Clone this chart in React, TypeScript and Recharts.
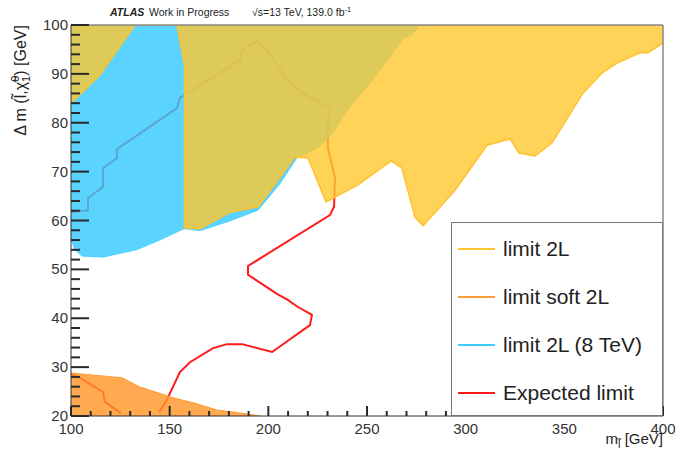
import { ComposedChart, Area, XAxis, YAxis, ReferenceLine, Legend } from 'recharts';

// Axis ticks
const X_MAJOR = [100, 150, 200, 250, 300, 350, 400];
const Y_MAJOR = [20, 30, 40, 50, 60, 70, 80, 90, 100];
const X_TICKS = Array.from({ length: 31 }, (_, i) => 100 + i * 10);
const Y_TICKS = Array.from({ length: 41 }, (_, i) => 20 + i * 2);

// limit 2L (13 TeV) - excluded band from LO up to the top of the frame
const L2L_X = [100, 114.7, 132.4, 153.7, 157.5, 157.5, 165.4, 180.6, 194.8, 213.5, 220.1, 229.2, 245.4, 262.2, 267.7, 274.3, 278.4, 294.6, 310.8, 322.5, 327.0, 335.1, 343.8, 359.5, 369.1, 376.7, 388.3, 392.4, 400];
const L2L_LO = [84.0, 89.8, 100, 100, 91.8, 58.5, 58.3, 61.7, 62.8, 73.0, 72.8, 63.8, 67.3, 72.2, 70.7, 60.7, 58.9, 66.2, 75.4, 76.7, 73.8, 73.2, 75.9, 86.1, 90.2, 92.2, 94.3, 94.3, 96.3];

// limit 2L (8 TeV)
const L8_X = [100, 102.0, 105.6, 116.2, 133.4, 145.1, 157.3, 165.4, 180.6, 194.8, 205.9, 214.5, 224.7, 231.2, 241.4, 251.5, 261.7, 268.2, 272.8, 276.9];
const L8_LO = [56.0, 54.0, 52.7, 52.5, 54.0, 56.0, 58.3, 57.9, 59.9, 62.1, 67.5, 72.8, 74.8, 77.1, 83.2, 88.1, 93.5, 97.3, 98.0, 100];

// limit soft 2L - from the bottom of the frame up to HI
const SOFT_X = [100, 125.8, 135.0, 151.7, 161.8, 174.0, 182.1, 195.8];
const SOFT_HI = [28.8, 27.8, 25.9, 23.7, 22.7, 21.2, 20.8, 20.0];

// expected limit, two pieces
const EXP_A_X = [100, 104.6, 116.2, 117.2, 125.3];
const EXP_A_Y = [28.6, 27.8, 24.9, 22.9, 20.6];
const EXP_B_X = [144.6, 148.1, 155.2, 160.3, 172.0, 179.1, 186.7, 201.9, 221.1, 222.1, 215.0, 210.0, 204.4, 189.7, 189.7, 231.2, 233.3, 233.8, 230.2, 230.2, 231.2, 217.1, 208.4, 199.3, 194.3, 186.7, 185.6, 155.2, 153.7, 123.3, 123.3, 116.2, 116.2, 108.6, 108.6, 100];
const EXP_B_Y = [20.8, 22.9, 29.0, 31.0, 33.9, 34.7, 34.7, 33.1, 38.6, 40.7, 42.3, 43.7, 45.0, 48.9, 50.7, 61.1, 62.8, 68.7, 74.8, 80.6, 83.0, 86.1, 89.4, 94.9, 96.7, 94.9, 92.8, 85.1, 83.0, 74.6, 72.8, 70.7, 66.9, 64.6, 62.1, 61.7];

const LEGEND_NAMES = ['limit 2L', 'limit soft 2L', 'limit 2L (8 TeV)', 'Expected limit'];
const LEGEND_COLORS = ['#ffc72e', '#ff9d3c', '#3ccbff', '#ff1a1a'];

const FONT = '"Liberation Sans", Arial, Helvetica, sans-serif';

const l2lData = L2L_X.map((x, i) => ({ x, lo: L2L_LO[i], hi: 100 }));
const l8Data = L8_X.map((x, i) => ({ x, lo: L8_LO[i], hi: 100 }));
const softData = SOFT_X.map((x, i) => ({ x, lo: 20, hi: SOFT_HI[i] }));
const expA = EXP_A_X.map((x, i) => ({ x, y: EXP_A_Y[i] }));
const expB = EXP_B_X.map((x, i) => ({ x, y: EXP_B_Y[i] }));

// ticks point into the frame, labels sit outside
const XTick = ({ x, y, payload }: any) => {
    const major = X_MAJOR.includes(payload.value);
    return (
        <g>
            <path d={`M${x},${y}v${major ? -10 : -5}`} stroke="#2a2a2a" strokeWidth={2} fill="none" />
            {major && (
                <text x={x} y={y + 18} textAnchor="middle" fontSize={15} fill="#333" fontFamily={FONT}>
                    {payload.value}
                </text>
            )}
        </g>
    );
};

const YTick = ({ x, y, payload }: any) => {
    const major = Y_MAJOR.includes(payload.value);
    return (
        <g>
            <path d={`M${x},${y}h${major ? 18 : 9}`} stroke="#2a2a2a" strokeWidth={2} fill="none" />
            {major && (
                <text x={x - 3} y={y + 5} textAnchor="end" fontSize={15} fill="#333" fontFamily={FONT}>
                    {payload.value}
                </text>
            )}
        </g>
    );
};

// y title + header text
const YTitle = () => (
    <g fontFamily={FONT} fill="#222">
        <text transform="rotate(-90)" x={-25} y={26} textAnchor="end" fontSize={16}>
            {'\u0394 m (l\u0303,\u03c7\u0303'}
            <tspan dy={4} fontSize={11}>1</tspan>
            <tspan dx={-6} dy={-11} fontSize={11}>0</tspan>
            <tspan dy={7}>) [GeV]</tspan>
        </text>
        <text x={110} y={16} fontSize={10.5} fontStyle="italic" fontWeight="bold">ATLAS</text>
        <text x={149} y={16} fontSize={10.5}>Work in Progress</text>
        <text x={252} y={16} fontSize={10.5}>
            {'\u221as=13 TeV, 139.0 fb'}
            <tspan dy={-4} fontSize={7.5}>-1</tspan>
        </text>
    </g>
);

const XTitle = () => (
    <text x={663} y={444} textAnchor="end" fontSize={15} fill="#222" fontFamily={FONT}>
        m
        <tspan dy={4} fontSize={11}>{'l\u0303'}</tspan>
        <tspan dy={-4}> [GeV]</tspan>
    </text>
);

const LegendBox = () => (
    <div style={{ position: 'relative', width: 212, height: 194, boxSizing: 'border-box', border: '1px solid #777', background: '#fff', fontFamily: FONT, fontSize: 21, color: '#222' }}>
        {LEGEND_NAMES.map((name, i) => (
            <div key={name} style={{ position: 'absolute', left: 6, top: 13 + 48 * i, height: 26, display: 'flex', alignItems: 'center', whiteSpace: 'nowrap' }}>
                <span style={{ display: 'inline-block', width: 37, height: 2, background: LEGEND_COLORS[i] }} />
                <span style={{ marginLeft: 8 }}>{name}</span>
            </div>
        ))}
    </div>
);

const App = () => {
    return (
        <div style={{ position: 'absolute', left: 0, top: 0, background: '#fff' }}>
            <ComposedChart width={677} height={454} margin={{ top: 25, right: 14, bottom: 0, left: 0 }}>
                {/* expected limit first (unfilled), so the translucent regions tint it */}
                <Area data={expA} dataKey="y" type="linear" stroke="#ff1a1a" strokeWidth={2} fill="none" fillOpacity={0} legendType="none" isAnimationActive={false} />
                <Area data={expB} dataKey="y" type="linear" stroke="#ff1a1a" strokeWidth={2} fill="none" fillOpacity={0} legendType="none" isAnimationActive={false} />
                <Area data={l8Data} dataKey={(d: any) => [d.lo, d.hi]} type="linear" fill="#31c9ff" fillOpacity={0.8} stroke="#31c9ff" strokeOpacity={0.6} strokeWidth={1} isAnimationActive={false} />
                <Area data={l2lData} dataKey={(d: any) => [d.lo, d.hi]} type="linear" fill="rgb(255,199,46)" fillOpacity={0.8} stroke="#ffc22a" strokeWidth={1.5} isAnimationActive={false} />
                <Area data={softData} dataKey={(d: any) => [d.lo, d.hi]} type="linear" fill="rgb(255,149,36)" fillOpacity={0.8} stroke="#ff9d3c" strokeWidth={1.2} isAnimationActive={false} />
                <ReferenceLine y={100} stroke="#888" strokeWidth={1.5} />
                <ReferenceLine x={400} stroke="#888" strokeWidth={1.5} />
                <XAxis
                    dataKey="x"
                    type="number"
                    domain={[100, 400]}
                    ticks={X_TICKS}
                    interval={0}
                    allowDataOverflow
                    height={38}
                    tickSize={0}
                    tickMargin={0}
                    tickLine={false}
                    tick={<XTick />}
                    axisLine={{ stroke: '#333' }}
                    label={<XTitle />}
                />
                <YAxis
                    type="number"
                    domain={[20, 100]}
                    ticks={Y_TICKS}
                    interval={0}
                    allowDataOverflow
                    width={71}
                    tickSize={0}
                    tickMargin={0}
                    tickLine={false}
                    tick={<YTick />}
                    axisLine={{ stroke: '#333' }}
                    label={<YTitle />}
                />
                <Legend
                    layout="vertical"
                    align="center"
                    verticalAlign="middle"
                    content={() => <LegendBox />}
                    wrapperStyle={{ left: 451, top: 222, width: 212, height: 194 }}
                />
            </ComposedChart>
        </div>
    );
};

export default App;
